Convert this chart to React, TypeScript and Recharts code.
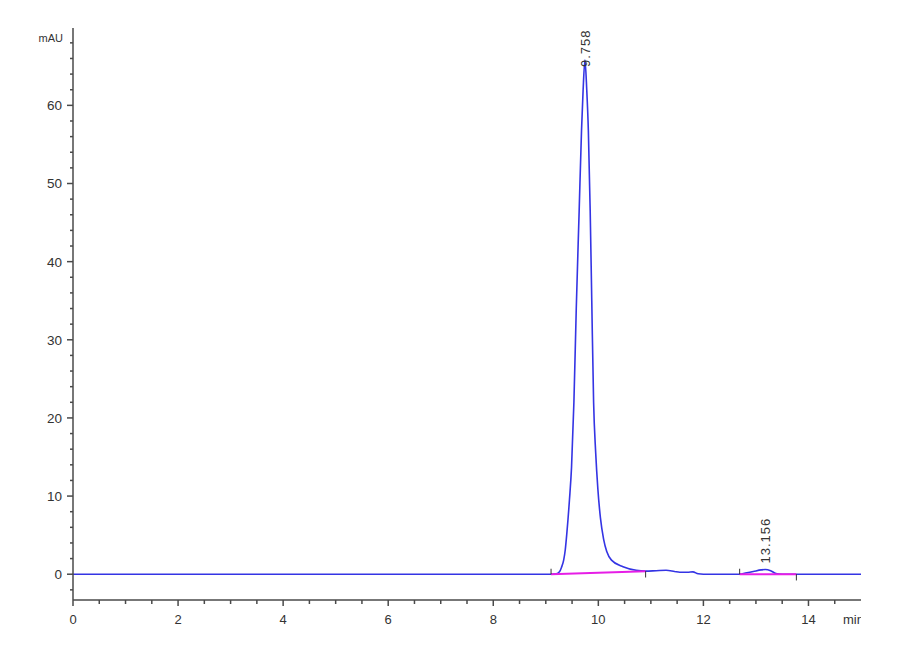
import React from "react";
import { LineChart, Line, XAxis, YAxis, ReferenceLine, ReferenceDot } from "recharts";

// retention time (min) and detector signal (mAU)
const timeMin = [
  0, 1, 2, 3, 4, 5, 6, 7, 8, 9.0, 9.1, 9.2, 9.26, 9.3, 9.34, 9.37, 9.4, 9.45, 9.49,
  9.535, 9.58, 9.635, 9.68, 9.71, 9.745, 9.78, 9.81, 9.845, 9.875, 9.91, 9.95, 9.99,
  10.04, 10.1, 10.16, 10.25, 10.47, 10.72, 10.9, 11.1, 11.29, 11.45, 11.55, 11.7, 11.8, 11.9,
  12.0, 12.5, 12.69, 12.8, 12.95, 13.1, 13.18, 13.28, 13.38, 13.5, 14, 14.5, 15,
];
const signal = [
  0, 0, 0, 0, 0, 0, 0, 0, 0, 0, 0, 0.05, 0.3, 0.9, 1.8, 3.1, 5.2, 9.5, 13.7,
  22, 34, 46.5, 56.8, 61.9, 65.8, 61.9, 56.8, 46.5, 35, 22, 15.5, 11,
  7.2, 4.5, 2.9, 1.8, 0.95, 0.5, 0.4, 0.45, 0.5, 0.35, 0.25, 0.25, 0.3, 0.05,
  0, 0, 0, 0.15, 0.35, 0.55, 0.6, 0.45, 0.1, 0, 0, 0, 0,
];

// integration baselines
const baseStartT = [9.1, 12.69];
const baseStartV = [0, 0];
const baseEndT = [10.9, 13.77];
const baseEndV = [0.38, 0];

// peak annotations
const peakT = [9.745, 13.18];
const peakV = [65.8, 0.6];
const peakLabel = ["9.758", "13.156"];

const xTicks = [
  0, 0.5, 1, 1.5, 2, 2.5, 3, 3.5, 4, 4.5, 5, 5.5, 6, 6.5, 7, 7.5, 8, 8.5, 9, 9.5,
  10, 10.5, 11, 11.5, 12, 12.5, 13, 13.5, 14, 14.5,
];
const xLabelled = [0, 2, 4, 6, 8, 10, 12, 14];
const yTicks = [
  -2, 0, 2, 4, 6, 8, 10, 12, 14, 16, 18, 20, 22, 24, 26, 28, 30, 32, 34, 36, 38, 40,
  42, 44, 46, 48, 50, 52, 54, 56, 58, 60, 62, 64, 66, 68,
];
const yLabelled = [0, 10, 20, 30, 40, 50, 60];

const FONT = "'Liberation Sans', Arial, sans-serif";
const AXIS = "#4a4a4a";
const TEXT = "#333";
const TRACE = "#3434e4";
const BASE = "#e61ee6";
const PLOT_TOP = 20;

const traceData = timeMin.map((t, i) => ({ t, v: signal[i] }));

const XTick = (props: any) => {
  const { x, y, payload } = props;
  const major = xLabelled.includes(payload.value);
  return (
    <g>
      <line x1={x} y1={y} x2={x} y2={y + (major ? 6 : 4)} stroke={AXIS} strokeWidth={1.5} />
      {major && (
        <text x={x} y={y + 24} textAnchor="middle" fontSize={13} fill={TEXT} fontFamily={FONT}>
          {payload.value}
        </text>
      )}
    </g>
  );
};

const YTick = (props: any) => {
  const { x, y, payload } = props;
  const major = yLabelled.includes(payload.value);
  return (
    <g>
      <line x1={x} y1={y} x2={x - (major ? 6 : 3)} y2={y} stroke={AXIS} strokeWidth={1.5} />
      {major && (
        <text x={x - 11} y={y} dy="0.36em" textAnchor="end" fontSize={13.5} fill={TEXT} fontFamily={FONT}>
          {payload.value}
        </text>
      )}
    </g>
  );
};

const makePeakLabel = (text: string) => (props: any) => {
  const vb = props.viewBox || {};
  const cx = (vb.x ?? 0) + (vb.width ?? 0) / 2;
  const cy = (vb.y ?? 0) + (vb.height ?? 0) / 2;
  const len = text.length * 7.4;
  const start = Math.max(cy - 6, PLOT_TOP + 2 + len);
  return (
    <text
      x={cx}
      y={start}
      dy="0.36em"
      transform={`rotate(-90 ${cx} ${start})`}
      fontSize={13}
      letterSpacing={1}
      fill={TEXT}
      fontFamily={FONT}
    >
      {text}
    </text>
  );
};

export default function App() {
  return (
    <div style={{ width: 853, height: 630, background: "#fff" }}>
      <LineChart
        width={853}
        height={630}
        data={traceData}
        margin={{ top: PLOT_TOP, right: 0, bottom: 8, left: 0 }}
      >
        <XAxis
          type="number"
          dataKey="t"
          domain={[0, 15]}
          ticks={xTicks}
          interval={0}
          height={30}
          tickSize={0}
          tickMargin={0}
          tickLine={false}
          axisLine={{ stroke: AXIS, strokeWidth: 1.5 }}
          tick={(p: any) => <XTick {...p} />}
          allowDataOverflow
          label={{
            content: (p: any) => {
              const vb = p.viewBox || {};
              return (
                <text x={vb.x + vb.width - 18} y={vb.y + 24} fontSize={13} fill={TEXT} fontFamily={FONT}>
                  min
                </text>
              );
            },
          }}
        />
        <YAxis
          type="number"
          domain={[-3.3, 69.9]}
          ticks={yTicks}
          interval={0}
          width={65}
          tickSize={0}
          tickMargin={0}
          tickLine={false}
          axisLine={{ stroke: AXIS, strokeWidth: 1.5 }}
          tick={(p: any) => <YTick {...p} />}
          allowDataOverflow
          label={{
            content: (p: any) => {
              const vb = p.viewBox || {};
              return (
                <text x={vb.x + vb.width - 10} y={vb.y + 14} textAnchor="end" fontSize={11} fill={TEXT} fontFamily={FONT}>
                  mAU
                </text>
              );
            },
          }}
        />
        <Line
          dataKey="v"
          type="monotone"
          stroke={TRACE}
          strokeWidth={1.6}
          dot={false}
          isAnimationActive={false}
        />
        {baseStartT.map((t, i) => (
          <Line
            key={"base" + i}
            data={[
              { t, v: baseStartV[i] },
              { t: baseEndT[i], v: baseEndV[i] },
            ]}
            dataKey="v"
            type="linear"
            stroke={BASE}
            strokeWidth={2}
            dot={false}
            isAnimationActive={false}
          />
        ))}
        {baseStartT.map((t, i) => (
          <ReferenceLine
            key={"s" + i}
            segment={[
              { x: t, y: baseStartV[i] },
              { x: t, y: baseStartV[i] + 0.7 },
            ]}
            stroke="#333"
            strokeWidth={1}
          />
        ))}
        {baseEndT.map((t, i) => (
          <ReferenceLine
            key={"e" + i}
            segment={[
              { x: t, y: baseEndV[i] },
              { x: t, y: baseEndV[i] - 0.8 },
            ]}
            stroke="#333"
            strokeWidth={1}
          />
        ))}
        {peakT.map((t, i) => (
          <ReferenceDot
            key={"p" + i}
            x={t}
            y={peakV[i]}
            r={1}
            fill="none"
            stroke="none"
            label={makePeakLabel(peakLabel[i])}
          />
        ))}
      </LineChart>
    </div>
  );
}
